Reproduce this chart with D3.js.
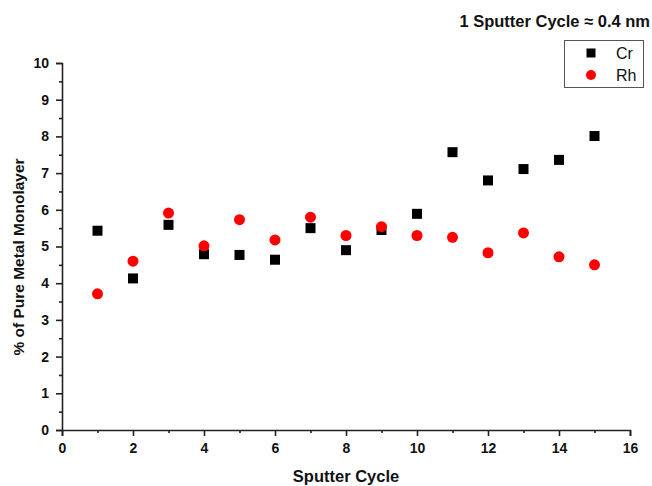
<!DOCTYPE html>
<html>
<head>
<meta charset="utf-8">
<script src="https://cdn.jsdelivr.net/npm/d3@7"></script>
<style>
  body { margin: 0; background: #fff; }
  svg { display: block; font-family: "Liberation Sans", Arial, sans-serif; }
</style>
</head>
<body>
<svg id="chart" width="652" height="486"></svg>
<script>
// Data
var cycles   = [1, 2, 3, 4, 5, 6, 7, 8, 9, 10, 11, 12, 13, 14, 15];
var crValues = [5.43, 4.13, 5.59, 4.79, 4.77, 4.64, 5.50, 4.90, 5.45, 5.89, 7.57, 6.80, 7.11, 7.36, 8.01];
var rhValues = [3.71, 4.60, 5.91, 5.02, 5.73, 5.18, 5.80, 5.30, 5.54, 5.30, 5.25, 4.83, 5.37, 4.72, 4.50];
var xTicks   = [0, 2, 4, 6, 8, 10, 12, 14, 16];
var yTicks   = [0, 1, 2, 3, 4, 5, 6, 7, 8, 9, 10];
var seriesNames = ["Cr", "Rh"];

var axisColor = "#222";
var chart_left = 62, chart_right = 630, chart_top = 63, chart_bottom = 430;

var svg = d3.select("#chart");

var xScale = d3.scaleLinear().domain([0, 16]).range([chart_left, chart_right]);
var yScale = d3.scaleLinear().domain([0, 10]).range([chart_bottom, chart_top]);

// minor ticks
var xMinor = d3.range(1, 16, 2);
var yMinor = d3.range(0.5, 10, 1);

var gx = svg.append("g").attr("transform", "translate(0," + chart_bottom + ")");
gx.call(d3.axisBottom(xScale).tickValues(xTicks).tickSizeOuter(0).tickSize(6).tickPadding(7));
gx.append("g").call(d3.axisBottom(xScale).tickValues(xMinor).tickSize(3).tickFormat(""))
    .select(".domain").remove();

var gy = svg.append("g").attr("transform", "translate(" + chart_left + ",0)");
gy.call(d3.axisLeft(yScale).tickValues(yTicks).tickSizeOuter(0).tickSize(6).tickPadding(7));
gy.append("g").call(d3.axisLeft(yScale).tickValues(yMinor).tickSize(3).tickFormat(""))
    .select(".domain").remove();

svg.selectAll(".domain, .tick line")
    .attr("stroke", axisColor)
    .attr("stroke-width", 1.6);
gx.attr("font-size", 14).attr("font-weight", "bold").attr("font-family", null);
gy.attr("font-size", 14).attr("font-weight", "bold").attr("font-family", null);
svg.selectAll(".tick text").attr("fill", "#111");

// axis titles
svg.append("text")
    .attr("x", 346).attr("y", 482)
    .attr("text-anchor", "middle")
    .style("font-size", "16.5px").style("font-weight", "bold")
    .attr("fill", "#111")
    .text("Sputter Cycle");

svg.append("text")
    .attr("transform", "translate(24,257) rotate(-90)")
    .attr("text-anchor", "middle")
    .style("font-size", "15.5px").style("font-weight", "bold")
    .attr("fill", "#111")
    .text("% of Pure Metal Monolayer");

// note at top right
svg.append("text")
    .attr("x", 650).attr("y", 27)
    .attr("text-anchor", "end")
    .style("font-size", "16.5px").style("font-weight", "bold")
    .attr("fill", "#111")
    .text("1 Sputter Cycle \u2248 0.4 nm");

// Cr squares
var sq = 10;
svg.append("g").selectAll("rect")
    .data(cycles.map(function(c, i) { return [c, crValues[i]]; }))
    .enter().append("rect")
    .attr("x", function(d) { return xScale(d[0]) - sq / 2; })
    .attr("y", function(d) { return yScale(d[1]) - sq / 2; })
    .attr("width", sq).attr("height", sq)
    .attr("fill", "#000");

// Rh circles
svg.append("g").selectAll("circle")
    .data(cycles.map(function(c, i) { return [c, rhValues[i]]; }))
    .enter().append("circle")
    .attr("cx", function(d) { return xScale(d[0]); })
    .attr("cy", function(d) { return yScale(d[1]); })
    .attr("r", 5.5)
    .attr("fill", "#ff0000");

// legend
var legend = svg.append("g");
legend.append("rect")
    .attr("x", 564.5).attr("y", 40.5).attr("width", 79).attr("height", 47)
    .attr("fill", "#fff").attr("stroke", "#555").attr("stroke-width", 1);
legend.append("rect")
    .attr("x", 591 - 4.5).attr("y", 53 - 4.5).attr("width", 9).attr("height", 9)
    .attr("fill", "#000");
legend.append("circle")
    .attr("cx", 591).attr("cy", 75).attr("r", 5)
    .attr("fill", "#ff0000");
legend.selectAll("text.lab")
    .data(seriesNames)
    .enter().append("text")
    .attr("class", "lab")
    .attr("x", 616)
    .attr("y", function(d, i) { return 59 + i * 22; })
    .style("font-size", "16px")
    .attr("fill", "#111")
    .text(function(d) { return d; });
</script>
</body>
</html>
